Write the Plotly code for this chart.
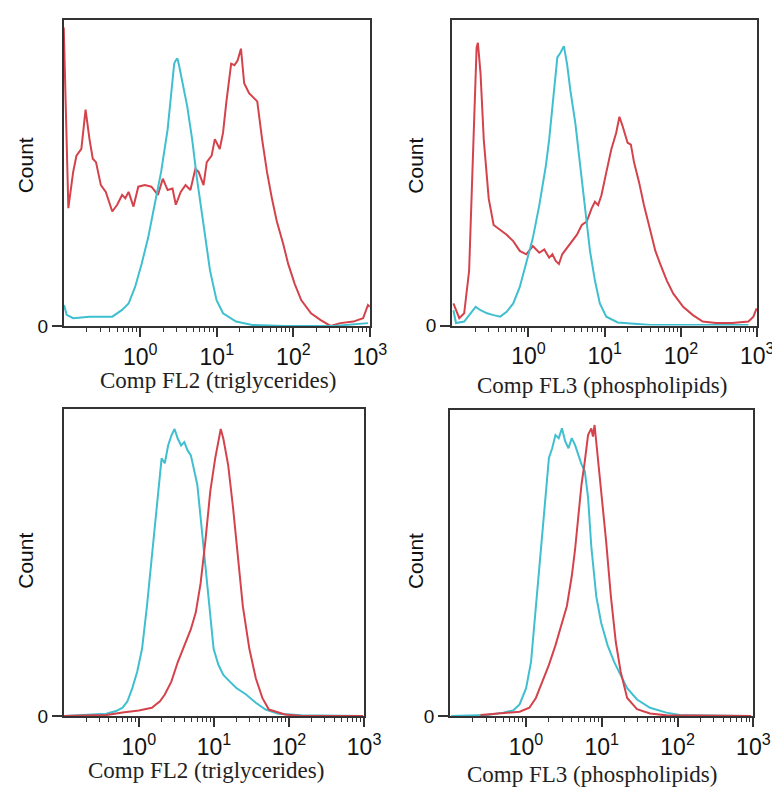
import plotly.graph_objects as go

# ---- data: log10 intensity (x) and relative count (y, % of panel height) ----
p1_red_logx = [-1.0, -0.94, -0.877, -0.834, -0.77, -0.715, -0.664, -0.621, -0.579, -0.515, -0.451, -0.366, -0.302, -0.238, -0.196, -0.153, -0.089, -0.026, 0.06, 0.145, 0.23, 0.294, 0.357, 0.421, 0.464, 0.528, 0.591, 0.655, 0.719, 0.762, 0.826, 0.868, 0.932, 0.974, 1.038, 1.081, 1.123, 1.187, 1.23, 1.272, 1.315, 1.357, 1.421, 1.464, 1.528, 1.591, 1.655, 1.719, 1.783, 1.868, 1.932, 2.017, 2.102, 2.23, 2.357, 2.485, 2.613, 2.783, 2.911, 2.974, 2.996]
p1_red_y = [97.5, 38.6, 50.4, 55.7, 57.9, 70.7, 61.1, 54.7, 53.6, 46.1, 43.9, 37.5, 39.7, 42.9, 41.8, 43.9, 39.1, 45.6, 46.1, 45.6, 42.9, 48.2, 44.5, 45.0, 39.7, 43.9, 46.1, 44.5, 51.4, 50.4, 46.1, 53.6, 55.7, 61.1, 57.9, 63.2, 72.9, 85.7, 85.2, 86.8, 90.6, 79.3, 76.1, 75.0, 73.4, 61.1, 50.4, 41.8, 34.3, 26.8, 20.4, 13.9, 8.6, 4.3, 2.1, 0.2, 1.1, 1.6, 2.7, 7.0, 6.4]
p1_cyan_logx = [-0.996, -0.962, -0.877, -0.664, -0.366, -0.238, -0.153, -0.068, 0.017, 0.102, 0.187, 0.272, 0.357, 0.4, 0.443, 0.464, 0.485, 0.506, 0.549, 0.613, 0.677, 0.74, 0.826, 0.911, 0.996, 1.081, 1.251, 1.464, 1.889, 2.528, 2.974]
p1_cyan_y = [7.0, 3.8, 2.7, 3.2, 3.2, 5.4, 7.5, 12.9, 20.4, 28.9, 39.7, 50.4, 64.3, 74.0, 85.7, 86.8, 87.4, 85.2, 79.3, 71.8, 61.1, 48.2, 33.2, 18.2, 8.6, 4.3, 1.6, 0.5, 0.2, 0.2, 1.1]

p2_red_logx = [-0.983, -0.906, -0.842, -0.777, -0.734, -0.704, -0.679, -0.662, -0.627, -0.585, -0.52, -0.456, -0.37, -0.285, -0.199, -0.113, -0.028, 0.058, 0.143, 0.208, 0.272, 0.315, 0.358, 0.4, 0.443, 0.507, 0.572, 0.636, 0.7, 0.764, 0.829, 0.872, 0.914, 0.957, 1.021, 1.086, 1.15, 1.193, 1.236, 1.3, 1.343, 1.385, 1.45, 1.514, 1.6, 1.664, 1.728, 1.814, 1.899, 2.028, 2.156, 2.285, 2.456, 2.67, 2.884, 2.949, 2.991]
p2_red_y = [7.2, 2.4, 4.0, 17.9, 50.1, 76.9, 90.9, 92.5, 82.3, 60.8, 41.5, 32.9, 31.3, 29.7, 27.6, 24.4, 23.3, 26.0, 23.8, 24.9, 22.2, 23.3, 21.1, 20.1, 23.3, 25.4, 27.6, 29.7, 32.9, 34.0, 38.3, 40.5, 39.4, 42.6, 50.1, 57.6, 63.0, 68.3, 65.1, 59.8, 59.2, 53.3, 46.9, 39.4, 30.8, 24.4, 20.1, 14.7, 10.4, 6.1, 3.4, 1.3, 0.8, 0.8, 1.3, 2.9, 5.6]
p2_cyan_logx = [-0.983, -0.949, -0.842, -0.756, -0.692, -0.627, -0.542, -0.456, -0.37, -0.285, -0.199, -0.113, -0.028, 0.058, 0.143, 0.186, 0.229, 0.272, 0.315, 0.358, 0.379, 0.422, 0.465, 0.507, 0.55, 0.615, 0.679, 0.743, 0.807, 0.872, 0.936, 1.021, 1.171, 1.6, 2.884]
p2_cyan_y = [5.0, 0.8, 1.3, 4.0, 6.1, 5.0, 4.0, 3.4, 2.9, 4.5, 7.2, 12.6, 20.1, 28.6, 39.4, 45.3, 52.3, 60.8, 71.6, 82.3, 87.7, 89.3, 91.4, 85.5, 76.9, 66.2, 52.3, 37.2, 24.4, 14.7, 7.2, 2.9, 1.0, 0.2, 0.2]

p3_cyan_logx = [-0.996, -0.649, -0.433, -0.303, -0.216, -0.152, -0.087, -0.022, 0.043, 0.108, 0.173, 0.238, 0.281, 0.303, 0.346, 0.39, 0.433, 0.476, 0.519, 0.563, 0.606, 0.649, 0.693, 0.736, 0.779, 0.823, 0.866, 0.909, 0.952, 0.996, 1.061, 1.126, 1.212, 1.299, 1.429, 1.558, 1.688, 1.861, 2.165, 2.987]
p3_cyan_y = [0.0, 0.3, 0.7, 1.6, 2.7, 4.8, 9.1, 14.4, 21.9, 35.8, 51.9, 67.9, 80.7, 84.0, 82.4, 88.2, 91.4, 93.6, 90.4, 88.2, 89.3, 86.6, 85.0, 80.7, 75.4, 64.7, 54.0, 41.2, 30.5, 21.9, 16.6, 13.4, 11.2, 9.1, 7.0, 4.3, 2.1, 0.7, 0.2, 0.0]
p3_red_logx = [-0.996, -0.433, -0.216, 0.0, 0.173, 0.281, 0.346, 0.433, 0.519, 0.606, 0.693, 0.758, 0.823, 0.887, 0.952, 1.017, 1.061, 1.091, 1.126, 1.19, 1.255, 1.32, 1.385, 1.472, 1.558, 1.645, 1.732, 1.948, 2.165, 2.987]
p3_red_y = [0.0, 0.3, 1.1, 1.8, 2.7, 4.8, 7.0, 11.2, 17.6, 23.0, 28.3, 33.7, 43.3, 57.2, 73.3, 84.0, 90.4, 93.6, 90.4, 81.8, 67.9, 51.9, 35.8, 21.9, 12.3, 5.9, 2.1, 0.5, 0.0, 0.0]

p4_cyan_logx = [-0.987, -0.514, -0.299, -0.17, -0.084, 0.002, 0.067, 0.131, 0.196, 0.26, 0.303, 0.346, 0.389, 0.432, 0.475, 0.518, 0.561, 0.604, 0.647, 0.69, 0.733, 0.776, 0.819, 0.862, 0.927, 0.991, 1.077, 1.163, 1.249, 1.335, 1.465, 1.637, 1.852, 2.067, 2.97]
p4_cyan_y = [0.0, 0.3, 1.1, 1.8, 3.8, 9.1, 17.7, 36.0, 54.3, 73.7, 84.4, 87.6, 91.9, 90.9, 94.1, 89.8, 87.6, 90.9, 88.7, 85.5, 82.3, 80.1, 71.5, 55.4, 39.2, 30.6, 23.1, 17.7, 13.4, 9.1, 5.4, 2.7, 1.1, 0.2, 0.0]
p4_red_logx = [-0.6, -0.299, -0.084, 0.045, 0.131, 0.217, 0.303, 0.389, 0.475, 0.54, 0.604, 0.647, 0.69, 0.733, 0.776, 0.819, 0.862, 0.884, 0.905, 0.948, 0.991, 1.056, 1.12, 1.185, 1.249, 1.335, 1.465, 1.637, 1.852, 2.97]
p4_red_y = [0.3, 0.8, 1.4, 2.7, 5.9, 11.3, 16.7, 23.1, 30.6, 36.0, 45.7, 54.3, 65.1, 75.8, 83.3, 91.9, 94.1, 91.4, 95.2, 84.4, 75.8, 57.5, 39.2, 24.2, 14.5, 5.9, 2.2, 0.8, 0.2, 0.0]

major_ticks = [1, 10, 100, 1000]
major_labels = ["10<sup>0</sup>", "10<sup>1</sup>", "10<sup>2</sup>", "10<sup>3</sup>"]
minor_ticks = [m * d for d in (0.1, 1, 10, 100) for m in range(2, 10)]
x_titles = ["Comp FL2 (triglycerides)", "Comp FL3 (phospholipids)",
            "Comp FL2 (triglycerides)", "Comp FL3 (phospholipids)"]

RED = "#d4434b"
CYAN = "#3fbfcf"
FRAME = "#333333"

W, H = 780, 788
# panel boxes in pixels: (left, right, top, bottom)
boxes = [(57, 370, 12, 323), (454, 766, 12, 322), (57, 364, 407, 718), (452, 762, 408, 718)]
title_pos = [(215, 378), (607, 383), (202, 773), (597, 777)]
count_pos = [(18, 160), (417, 160), (18, 561), (416, 561)]

panels = [
    (p1_cyan_logx, p1_cyan_y, p1_red_logx, p1_red_y),
    (p2_cyan_logx, p2_cyan_y, p2_red_logx, p2_red_y),
    (p3_cyan_logx, p3_cyan_y, p3_red_logx, p3_red_y),
    (p4_cyan_logx, p4_cyan_y, p4_red_logx, p4_red_y),
]
orders = [("red", "cyan"), ("red", "cyan"), ("cyan", "red"), ("cyan", "red")]

fig = go.Figure()
layout = dict(width=W, height=H, margin=dict(l=0, r=0, t=0, b=0),
              paper_bgcolor="white", plot_bgcolor="white", showlegend=False)
annotations = []
for i, (cx, cy, rx, ry) in enumerate(panels):
    n = i + 1
    xa = "x" if n == 1 else f"x{n}"
    ya = "y" if n == 1 else f"y{n}"
    series = {"cyan": (cx, cy, CYAN), "red": (rx, ry, RED)}
    for key in orders[i]:
        lx, yy, col = series[key]
        fig.add_trace(go.Scatter(x=[10 ** v for v in lx], y=yy, mode="lines",
                                 line=dict(color=col, width=2), xaxis=xa, yaxis=ya,
                                 hoverinfo="skip"))
    l, r, t, b = boxes[i]
    layout[f"xaxis{'' if n == 1 else n}"] = dict(
        type="log", range=[-1, 3], domain=[l / W, r / W], anchor=ya,
        showline=True, mirror=True, linecolor=FRAME, linewidth=2,
        showgrid=False, zeroline=False,
        tickvals=major_ticks, ticktext=major_labels,
        ticks="outside", ticklen=9, tickwidth=1.5, tickcolor=FRAME,
        tickfont=dict(family="Liberation Sans, Arial", size=23, color="#111"),
        minor=dict(tickvals=minor_ticks, ticks="outside", ticklen=4,
                   tickwidth=1.2, tickcolor=FRAME, showgrid=False),
    )
    layout[f"yaxis{'' if n == 1 else n}"] = dict(
        range=[0, 100], domain=[(H - b) / H, (H - t) / H], anchor=xa,
        showline=True, mirror=True, linecolor=FRAME, linewidth=2,
        showgrid=False, zeroline=False,
        tickvals=[0], ticktext=["0"], ticks="outside", ticklen=10,
        tickwidth=1.5, tickcolor=FRAME,
        tickfont=dict(family="Liberation Sans, Arial", size=19, color="#111"),
    )
    tx, ty = title_pos[i]
    annotations.append(dict(text=x_titles[i], x=tx / W, y=(H - ty) / H,
                            xref="paper", yref="paper", showarrow=False,
                            xanchor="center", yanchor="middle",
                            font=dict(family="Liberation Serif, Times New Roman", size=23, color="#222")))
    qx, qy = count_pos[i]
    annotations.append(dict(text="Count", x=qx / W, y=(H - qy) / H,
                            xref="paper", yref="paper", showarrow=False,
                            textangle=-90, xanchor="center", yanchor="middle",
                            font=dict(family="Liberation Sans, Arial", size=21, color="#111")))
layout["annotations"] = annotations
fig.update_layout(**layout)
fig.write_html("out.html")
